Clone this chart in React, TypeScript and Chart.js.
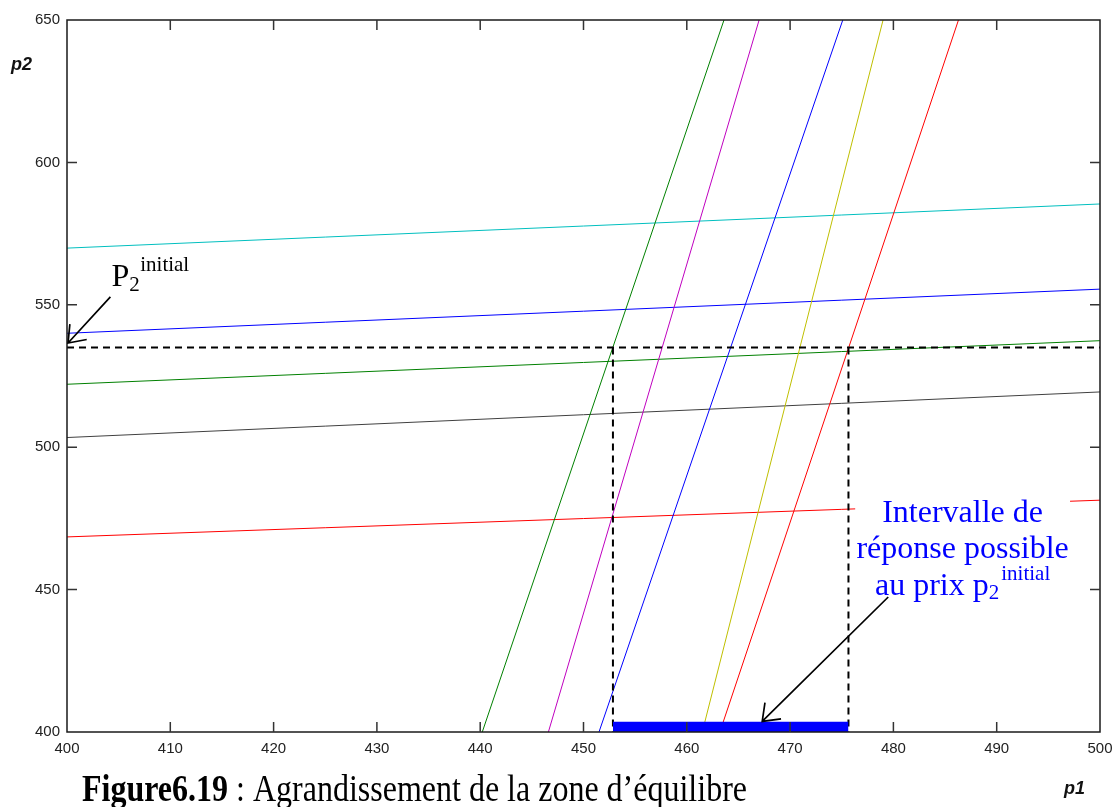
import React, { useEffect, useRef } from "react";
import { Chart, registerables } from "chart.js";

Chart.register(...registerables);

// ---- axis ticks ----
const xTickValues = [400, 410, 420, 430, 440, 450, 460, 470, 480, 490, 500];
const yTickValues = [400, 450, 500, 550, 600, 650];

// ---- p2 reaction lines (p2 as a function of p1) ----
const p1Span = [400, 500];
const p2Cyan = [569.9, 585.4];
const p2Blue = [540.0, 555.5];
const p2Green = [522.1, 537.4];
const p2Gray = [503.4, 519.4];
const p2Red = [468.5, 481.4];

// ---- p1 reaction lines (p1 as a function of p2) ----
const p2Span = [400, 650];
const p1Green = [440.2, 463.6];
const p1Magenta = [446.6, 467.0];
const p1Blue = [451.5, 475.1];
const p1Yellow = [461.5, 479.0];
const p1Red = [463.2, 486.3];

// ---- initial price and response interval ----
const p2Initial = 535;
const intervalP1 = [452.85, 475.65];
const intervalBarTop = [403.6, 403.6];

// ---- annotation anchors (data coordinates) ----
const noteCenter = { p1: 486.7, p2: 473.9 };
const noteBox = { p1: [476.3, 497.1], p2: [485.7, 438.0] };
const labelBox = { p1: [404.2, 413.4], p2: [569.3, 552.4] };
const labelAnchor = { p1: 404.3, p2: 556.9 };
const arrow1 = { from: [404.2, 552.8], to: [400.1, 536.6] };
const arrow2 = { from: [479.5, 447.4], to: [467.3, 403.7] };

const seg = (xs: number[], ys: number[]) => xs.map((v, i) => ({ x: v, y: ys[i] }));

const line = (data: any[], color: string, extra: any = {}) => ({
  data,
  borderColor: color,
  backgroundColor: color,
  borderWidth: 1,
  showLine: true,
  pointRadius: 0,
  pointHoverRadius: 0,
  fill: false,
  tension: 0,
  ...extra,
});

const dash = { borderWidth: 2, borderDash: [7, 5] };

const datasets = [
  line(seg(intervalP1, intervalBarTop), "#0000ff", { fill: "start", borderWidth: 0 }),
  line(seg(p1Span, [p2Initial, p2Initial]), "#000000", dash),
  line(seg([intervalP1[0], intervalP1[0]], [p2Initial, 400]), "#000000", dash),
  line(seg([intervalP1[1], intervalP1[1]], [p2Initial, 400]), "#000000", dash),
  line(seg(p1Green, p2Span), "#008000"),
  line(seg(p1Magenta, p2Span), "#bf00bf"),
  line(seg(p1Blue, p2Span), "#0000ff"),
  line(seg(p1Yellow, p2Span), "#bfbf00"),
  line(seg(p1Red, p2Span), "#ff0000"),
  line(seg(p1Span, p2Cyan), "#00bfbf"),
  line(seg(p1Span, p2Blue), "#0000ff"),
  line(seg(p1Span, p2Green), "#008000"),
  line(seg(p1Span, p2Gray), "#404040"),
  line(seg(p1Span, p2Red), "#ff0000"),
];

const SERIF = "'Liberation Serif', 'Times New Roman', serif";
const SANS = "'Liberation Sans', Arial, sans-serif";

function drawArrow(ctx: CanvasRenderingContext2D, x0: number, y0: number, x1: number, y1: number) {
  const ang = Math.atan2(y0 - y1, x0 - x1);
  const len = 19;
  const half = (37 * Math.PI) / 180;
  ctx.beginPath();
  ctx.moveTo(x0, y0);
  ctx.lineTo(x1, y1);
  ctx.moveTo(x1 + len * Math.cos(ang - half), y1 + len * Math.sin(ang - half));
  ctx.lineTo(x1, y1);
  ctx.lineTo(x1 + len * Math.cos(ang + half), y1 + len * Math.sin(ang + half));
  ctx.stroke();
}

const decor = {
  id: "decor",
  afterDatasetsDraw(chart: any) {
    const { ctx, chartArea: a } = chart;
    const xs = chart.scales.x;
    const ys = chart.scales.y;
    const X = (v: number) => xs.getPixelForValue(v);
    const Y = (v: number) => ys.getPixelForValue(v);
    ctx.save();

    // white text boxes
    ctx.fillStyle = "#ffffff";
    ctx.fillRect(X(noteBox.p1[0]), Y(noteBox.p2[0]), X(noteBox.p1[1]) - X(noteBox.p1[0]), Y(noteBox.p2[1]) - Y(noteBox.p2[0]));
    ctx.fillRect(X(labelBox.p1[0]), Y(labelBox.p2[0]), X(labelBox.p1[1]) - X(labelBox.p1[0]), Y(labelBox.p2[1]) - Y(labelBox.p2[0]));

    // frame
    ctx.strokeStyle = "#1a1a1a";
    ctx.lineWidth = 1.5;
    ctx.strokeRect(a.left, a.top, a.right - a.left, a.bottom - a.top);

    // inward ticks on all four sides
    ctx.strokeStyle = "#333333";
    ctx.lineWidth = 1.5;
    const tl = 10;
    ctx.beginPath();
    xTickValues.slice(1, -1).forEach((v) => {
      const px = X(v);
      ctx.moveTo(px, a.bottom);
      ctx.lineTo(px, a.bottom - tl);
      ctx.moveTo(px, a.top);
      ctx.lineTo(px, a.top + tl);
    });
    yTickValues.slice(1, -1).forEach((v) => {
      const py = Y(v);
      ctx.moveTo(a.left, py);
      ctx.lineTo(a.left + tl, py);
      ctx.moveTo(a.right, py);
      ctx.lineTo(a.right - tl, py);
    });
    ctx.stroke();

    // P2 initial label
    ctx.fillStyle = "#000000";
    ctx.textAlign = "left";
    ctx.textBaseline = "alphabetic";
    const lx = X(labelAnchor.p1);
    const ly = Y(labelAnchor.p2) + 1;
    ctx.font = `32px ${SERIF}`;
    ctx.fillText("P", lx, ly);
    const pw = ctx.measureText("P").width;
    ctx.font = `21px ${SERIF}`;
    ctx.fillText("2", lx + pw, ly + 5);
    ctx.fillText("initial", lx + pw + 11, ly - 15);

    // interval note
    ctx.fillStyle = "#0000ff";
    const nx = X(noteCenter.p1);
    const ny = Y(noteCenter.p2);
    ctx.font = `32px ${SERIF}`;
    ctx.textAlign = "center";
    ctx.fillText("Intervalle de", nx, ny);
    ctx.fillText("réponse possible", nx, ny + 36.6);
    ctx.textAlign = "left";
    const main = "au prix p";
    const mw = ctx.measureText(main).width;
    ctx.font = `21px ${SERIF}`;
    const sw = ctx.measureText("2").width;
    const iw = ctx.measureText("initial").width;
    const total = mw + sw + iw + 2;
    const sx = nx - total / 2;
    const by = ny + 73.3;
    ctx.font = `32px ${SERIF}`;
    ctx.fillText(main, sx, by);
    ctx.font = `21px ${SERIF}`;
    ctx.fillText("2", sx + mw, by + 4);
    ctx.fillText("initial", sx + mw + sw + 2, by - 15);

    // arrows
    ctx.strokeStyle = "#000000";
    ctx.lineWidth = 1.7;
    drawArrow(ctx, X(arrow1.from[0]), Y(arrow1.from[1]), X(arrow1.to[0]), Y(arrow1.to[1]));
    drawArrow(ctx, X(arrow2.from[0]), Y(arrow2.from[1]), X(arrow2.to[0]), Y(arrow2.to[1]));

    // axis labels
    ctx.fillStyle = "#111111";
    ctx.font = `italic bold 18px ${SANS}`;
    ctx.textAlign = "left";
    ctx.fillText("p2", 11, 69.5);
    ctx.fillText("p1", 1064, 794);

    // caption
    ctx.fillStyle = "#000000";
    ctx.save();
    ctx.translate(a.left + 15, 801);
    ctx.scale(1, 1.18);
    ctx.font = `bold 32px ${SERIF}`;
    const fig = "Figure6.19";
    ctx.fillText(fig, 0, 0);
    const fw = ctx.measureText(fig).width;
    ctx.font = `32px ${SERIF}`;
    ctx.fillText(" : Agrandissement de la zone d\u2019équilibre", fw, 0);
    ctx.restore();

    ctx.restore();
  },
};

export default function App() {
  const ref = useRef<HTMLCanvasElement>(null);
  useEffect(() => {
    if (!ref.current) return;
    Chart.defaults.font.family = SANS;
    const chart = new Chart(ref.current, {
      type: "scatter",
      data: { datasets: datasets as any },
      options: {
        animation: false,
        responsive: false,
        devicePixelRatio: 1,
        events: [],
        layout: { padding: { left: 0, right: 15, top: 20, bottom: 0 } },
        plugins: { legend: { display: false }, tooltip: { enabled: false } },
        scales: {
          x: {
            type: "linear",
            position: "bottom",
            min: 400,
            max: 500,
            afterBuildTicks: (s: any) => {
              s.ticks = xTickValues.map((v) => ({ value: v }));
            },
            afterFit: (s: any) => {
              s.height = 75;
              s.paddingLeft = 0;
              s.paddingRight = 0;
            },
            ticks: { color: "#222222", font: { size: 15 }, padding: 8, maxRotation: 0, autoSkip: false },
            grid: { display: false, drawTicks: false },
            border: { display: false },
          },
          y: {
            type: "linear",
            position: "left",
            min: 400,
            max: 650,
            afterBuildTicks: (s: any) => {
              s.ticks = yTickValues.map((v) => ({ value: v }));
            },
            afterFit: (s: any) => {
              s.width = 67;
              s.paddingTop = 0;
              s.paddingBottom = 0;
            },
            ticks: { color: "#222222", font: { size: 15 }, padding: 7, autoSkip: false },
            grid: { display: false, drawTicks: false },
            border: { display: false },
          },
        },
      },
      plugins: [decor],
    });
    return () => chart.destroy();
  }, []);
  return (
    <div style={{ position: "fixed", left: 0, top: 0, width: 1115, height: 807, background: "#ffffff" }}>
      <canvas ref={ref} width={1115} height={807} style={{ display: "block", width: 1115, height: 807 }} />
    </div>
  );
}
